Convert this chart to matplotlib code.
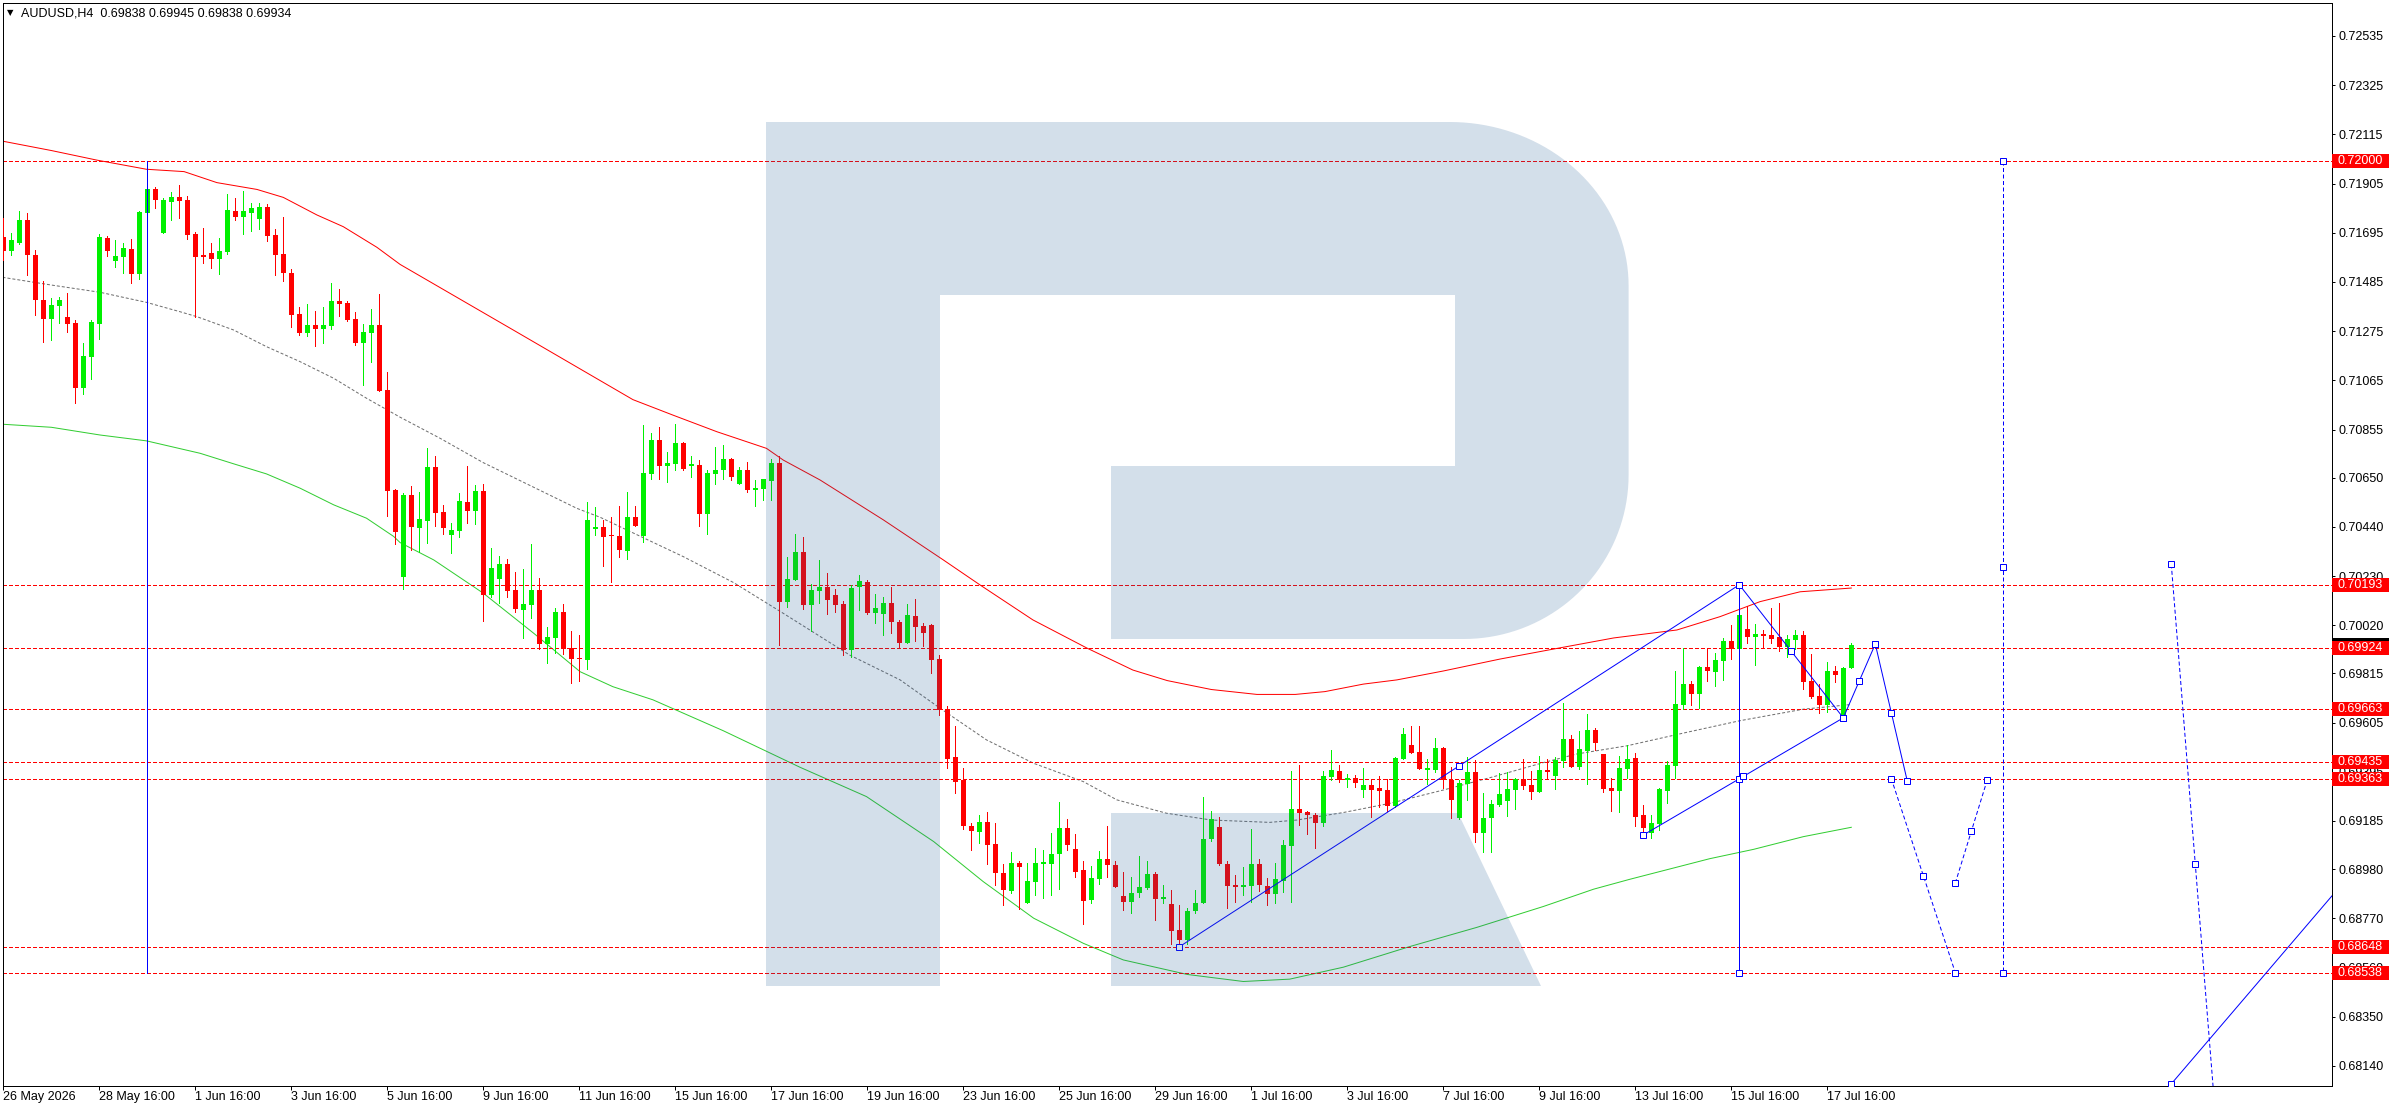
import numpy as np
import matplotlib
matplotlib.use("Agg")
import matplotlib.pyplot as plt
from matplotlib.patches import Polygon, Rectangle

plt.rcParams['font.family'] = ['Liberation Sans', 'DejaVu Sans']
plt.rcParams['font.size'] = 9

# AUDUSD H4 bars
opens = [0.71678, 0.71619, 0.71651, 0.71750, 0.71602, 0.71408, 0.71327, 0.71384, 0.71337, 0.71312,
         0.71033, 0.71165, 0.71307, 0.71673, 0.71576, 0.71592, 0.71626, 0.71519, 0.71781, 0.71880,
         0.71696, 0.71828, 0.71848, 0.71835, 0.71690, 0.71596, 0.71607, 0.71583, 0.71615, 0.71788,
         0.71764, 0.71781, 0.71755, 0.71805, 0.71686, 0.71604, 0.71523, 0.71349, 0.71269, 0.71302,
         0.71286, 0.71299, 0.71404, 0.71395, 0.71327, 0.71226, 0.71269, 0.71303, 0.71024, 0.70598,
         0.70228, 0.70576, 0.70437, 0.70467, 0.70696, 0.70504, 0.70407, 0.70424, 0.70546, 0.70509,
         0.70593, 0.70150, 0.70218, 0.70282, 0.70171, 0.70086, 0.70108, 0.70171, 0.69942, 0.69967,
         0.70078, 0.69922, 0.69878, 0.69874, 0.70432, 0.70440, 0.70403, 0.70401, 0.70339, 0.70482,
         0.70403, 0.70667, 0.70811, 0.70701, 0.70710, 0.70798, 0.70700, 0.70704, 0.70496, 0.70667,
         0.70683, 0.70730, 0.70624, 0.70683, 0.70599, 0.70603, 0.70636, 0.70713, 0.70121, 0.70215,
         0.70333, 0.70108, 0.70168, 0.70182, 0.70149, 0.70112, 0.69916, 0.70182, 0.70203, 0.70074,
         0.70070, 0.70115, 0.70036, 0.69946, 0.70060, 0.70017, 0.70021, 0.69876, 0.69662, 0.69457,
         0.69359, 0.69165, 0.69140, 0.69181, 0.69087, 0.68962, 0.68887, 0.69004, 0.68833, 0.68926,
         0.69003, 0.69003, 0.69042, 0.69155, 0.69066, 0.68976, 0.68848, 0.68939, 0.69023, 0.68998,
         0.68865, 0.68841, 0.68877, 0.68901, 0.68959, 0.68854, 0.68831, 0.68720, 0.68675, 0.68799,
         0.68837, 0.69107, 0.69160, 0.69002, 0.68912, 0.68905, 0.68908, 0.69002, 0.68908, 0.68875,
         0.68930, 0.69080, 0.69236, 0.69225, 0.69211, 0.69178, 0.69373, 0.69398, 0.69361, 0.69368,
         0.69319, 0.69339, 0.69327, 0.69317, 0.69250, 0.69450, 0.69509, 0.69479, 0.69404, 0.69403,
         0.69496, 0.69360, 0.69199, 0.69344, 0.69394, 0.69135, 0.69199, 0.69253, 0.69272, 0.69319,
         0.69364, 0.69339, 0.69310, 0.69400, 0.69378, 0.69442, 0.69535, 0.69417, 0.69485, 0.69573,
         0.69471, 0.69327, 0.69314, 0.69408, 0.69454, 0.69211, 0.69135, 0.69171, 0.69313, 0.69421,
         0.69680, 0.69770, 0.69727, 0.69842, 0.69822, 0.69868, 0.69953, 0.69919, 0.70004, 0.69972,
         0.69983, 0.69979, 0.69970, 0.69929, 0.69957, 0.69979, 0.69782, 0.69718, 0.69682, 0.69825,
         0.69630, 0.69838]
highs = [0.71759, 0.71696, 0.71788, 0.71781, 0.71622, 0.71489, 0.71418, 0.71423, 0.71437, 0.71323,
         0.71226, 0.71323, 0.71690, 0.71681, 0.71664, 0.71650, 0.71668, 0.71788, 0.71880, 0.71892,
         0.71845, 0.71869, 0.71899, 0.71852, 0.71700, 0.71715, 0.71651, 0.71673, 0.71862, 0.71843,
         0.71873, 0.71822, 0.71822, 0.71816, 0.71711, 0.71762, 0.71541, 0.71378, 0.71391, 0.71361,
         0.71380, 0.71481, 0.71455, 0.71404, 0.71357, 0.71306, 0.71370, 0.71434, 0.71101, 0.70603,
         0.70586, 0.70615, 0.70589, 0.70777, 0.70742, 0.70533, 0.70455, 0.70586, 0.70700, 0.70617,
         0.70623, 0.70350, 0.70317, 0.70303, 0.70248, 0.70260, 0.70367, 0.70222, 0.70013, 0.70094,
         0.70111, 0.69996, 0.69979, 0.70546, 0.70525, 0.70469, 0.70484, 0.70529, 0.70589, 0.70529,
         0.70875, 0.70841, 0.70866, 0.70759, 0.70879, 0.70804, 0.70742, 0.70725, 0.70683, 0.70781,
         0.70789, 0.70734, 0.70694, 0.70717, 0.70640, 0.70644, 0.70730, 0.70742, 0.70312, 0.70410,
         0.70397, 0.70196, 0.70300, 0.70242, 0.70174, 0.70124, 0.70191, 0.70235, 0.70213, 0.70154,
         0.70139, 0.70185, 0.70043, 0.70111, 0.70131, 0.70028, 0.70026, 0.69893, 0.69676, 0.69590,
         0.69410, 0.69177, 0.69211, 0.69222, 0.69177, 0.69002, 0.69053, 0.69014, 0.69007, 0.69069,
         0.69061, 0.69133, 0.69266, 0.69194, 0.69130, 0.69014, 0.68993, 0.69056, 0.69164, 0.69014,
         0.68966, 0.68946, 0.69037, 0.69014, 0.68966, 0.68912, 0.68891, 0.68827, 0.68815, 0.68891,
         0.69286, 0.69228, 0.69200, 0.69014, 0.68955, 0.68989, 0.69151, 0.69023, 0.68942, 0.69006,
         0.69104, 0.69398, 0.69424, 0.69228, 0.69219, 0.69398, 0.69488, 0.69424, 0.69386, 0.69381,
         0.69411, 0.69364, 0.69377, 0.69364, 0.69458, 0.69582, 0.69590, 0.69590, 0.69450, 0.69539,
         0.69501, 0.69415, 0.69360, 0.69458, 0.69445, 0.69304, 0.69275, 0.69390, 0.69393, 0.69370,
         0.69450, 0.69398, 0.69462, 0.69450, 0.69458, 0.69688, 0.69552, 0.69569, 0.69641, 0.69582,
         0.69471, 0.69368, 0.69462, 0.69509, 0.69477, 0.69253, 0.69211, 0.69325, 0.69441, 0.69825,
         0.69922, 0.69782, 0.69847, 0.69922, 0.69900, 0.69966, 0.70021, 0.70102, 0.70102, 0.70026,
         0.70000, 0.70092, 0.70115, 0.69979, 0.70001, 0.69996, 0.69898, 0.69768, 0.69862, 0.69845,
         0.69844, 0.69945]
lows = [0.71579, 0.71600, 0.71647, 0.71515, 0.71344, 0.71231, 0.71238, 0.71309, 0.71272, 0.70969,
        0.71007, 0.71071, 0.71242, 0.71596, 0.71549, 0.71522, 0.71482, 0.71498, 0.71778, 0.71802,
        0.71696, 0.71750, 0.71759, 0.71668, 0.71337, 0.71568, 0.71545, 0.71519, 0.71604, 0.71750,
        0.71690, 0.71703, 0.71713, 0.71661, 0.71515, 0.71491, 0.71295, 0.71260, 0.71255, 0.71213,
        0.71226, 0.71285, 0.71341, 0.71320, 0.71218, 0.71046, 0.71144, 0.71019, 0.70488, 0.70365,
        0.70175, 0.70341, 0.70334, 0.70373, 0.70445, 0.70410, 0.70330, 0.70398, 0.70458, 0.70452,
        0.70040, 0.70142, 0.70114, 0.70142, 0.70078, 0.69967, 0.70053, 0.69920, 0.69861, 0.69901,
        0.69899, 0.69775, 0.69784, 0.69835, 0.70405, 0.70275, 0.70204, 0.70313, 0.70305, 0.70445,
        0.70377, 0.70643, 0.70644, 0.70633, 0.70683, 0.70681, 0.70653, 0.70445, 0.70410, 0.70624,
        0.70646, 0.70641, 0.70623, 0.70590, 0.70531, 0.70555, 0.70555, 0.69936, 0.70096, 0.70215,
        0.70091, 0.69997, 0.70117, 0.70067, 0.70075, 0.69893, 0.69883, 0.70085, 0.70067, 0.70028,
        0.69980, 0.69989, 0.69926, 0.69943, 0.69953, 0.69933, 0.69818, 0.69637, 0.69413, 0.69303,
        0.69152, 0.69059, 0.69093, 0.69002, 0.68912, 0.68827, 0.68877, 0.68811, 0.68833, 0.68870,
        0.68858, 0.68868, 0.68896, 0.69059, 0.68948, 0.68744, 0.68835, 0.68915, 0.68948, 0.68902,
        0.68803, 0.68794, 0.68862, 0.68895, 0.68761, 0.68834, 0.68660, 0.68646, 0.68660, 0.68791,
        0.68837, 0.69101, 0.68997, 0.68815, 0.68841, 0.68869, 0.68841, 0.68886, 0.68828, 0.68837,
        0.68884, 0.68841, 0.69169, 0.69130, 0.69071, 0.69165, 0.69361, 0.69353, 0.69331, 0.69331,
        0.69289, 0.69204, 0.69246, 0.69228, 0.69246, 0.69450, 0.69474, 0.69408, 0.69343, 0.69396,
        0.69324, 0.69199, 0.69192, 0.69276, 0.69097, 0.69054, 0.69054, 0.69249, 0.69208, 0.69238,
        0.69323, 0.69280, 0.69309, 0.69364, 0.69323, 0.69417, 0.69417, 0.69408, 0.69344, 0.69488,
        0.69310, 0.69229, 0.69225, 0.69368, 0.69164, 0.69140, 0.69114, 0.69147, 0.69263, 0.69367,
        0.69662, 0.69680, 0.69665, 0.69782, 0.69761, 0.69787, 0.69876, 0.69915, 0.69944, 0.69851,
        0.69926, 0.69943, 0.69912, 0.69885, 0.69920, 0.69748, 0.69708, 0.69647, 0.69652, 0.69780,
        0.69630, 0.69838]
closes = [0.71619, 0.71664, 0.71750, 0.71602, 0.71408, 0.71327, 0.71387, 0.71408, 0.71307, 0.71033,
          0.71169, 0.71314, 0.71677, 0.71619, 0.71596, 0.71630, 0.71519, 0.71785, 0.71880, 0.71836,
          0.71835, 0.71848, 0.71832, 0.71686, 0.71593, 0.71592, 0.71585, 0.71617, 0.71792, 0.71764,
          0.71788, 0.71801, 0.71805, 0.71683, 0.71602, 0.71522, 0.71346, 0.71267, 0.71302, 0.71286,
          0.71302, 0.71404, 0.71391, 0.71324, 0.71226, 0.71272, 0.71303, 0.71020, 0.70593, 0.70416,
          0.70576, 0.70441, 0.70474, 0.70696, 0.70501, 0.70437, 0.70427, 0.70550, 0.70509, 0.70593,
          0.70151, 0.70265, 0.70282, 0.70168, 0.70090, 0.70111, 0.70171, 0.69942, 0.69970, 0.70078,
          0.69920, 0.69875, 0.69875, 0.70469, 0.70440, 0.70398, 0.70400, 0.70343, 0.70482, 0.70445,
          0.70670, 0.70811, 0.70701, 0.70713, 0.70798, 0.70687, 0.70703, 0.70496, 0.70670, 0.70683,
          0.70730, 0.70653, 0.70683, 0.70597, 0.70606, 0.70644, 0.70713, 0.70121, 0.70218, 0.70333,
          0.70108, 0.70171, 0.70182, 0.70129, 0.70108, 0.69916, 0.70179, 0.70209, 0.70074, 0.70092,
          0.70115, 0.70036, 0.69946, 0.70064, 0.70014, 0.69989, 0.69873, 0.69659, 0.69450, 0.69353,
          0.69165, 0.69144, 0.69181, 0.69084, 0.68961, 0.68891, 0.69004, 0.68990, 0.68929, 0.69006,
          0.69006, 0.69043, 0.69155, 0.69084, 0.68968, 0.68845, 0.68941, 0.69023, 0.68995, 0.68905,
          0.68841, 0.68878, 0.68902, 0.68959, 0.68854, 0.68857, 0.68717, 0.68675, 0.68801, 0.68835,
          0.69108, 0.69194, 0.69002, 0.68908, 0.68905, 0.68912, 0.69002, 0.68913, 0.68875, 0.68938,
          0.69083, 0.69236, 0.69221, 0.69212, 0.69178, 0.69377, 0.69403, 0.69361, 0.69368, 0.69349,
          0.69337, 0.69319, 0.69314, 0.69250, 0.69454, 0.69556, 0.69477, 0.69408, 0.69411, 0.69496,
          0.69360, 0.69276, 0.69347, 0.69394, 0.69135, 0.69199, 0.69258, 0.69300, 0.69322, 0.69364,
          0.69336, 0.69310, 0.69403, 0.69396, 0.69445, 0.69535, 0.69417, 0.69492, 0.69573, 0.69516,
          0.69323, 0.69314, 0.69411, 0.69450, 0.69204, 0.69157, 0.69175, 0.69322, 0.69424, 0.69684,
          0.69770, 0.69727, 0.69842, 0.69825, 0.69872, 0.69953, 0.69919, 0.70064, 0.69972, 0.69983,
          0.69976, 0.69961, 0.69929, 0.69961, 0.69979, 0.69780, 0.69716, 0.69682, 0.69825, 0.69809,
          0.69838, 0.69934]

# moving averages sampled along the bars (bar index, price)
ma_red_x = [-0.4, 6, 11.7, 17.9, 22.6, 26.7, 31.7, 35, 39.2, 42.5, 46.7, 49.6, 64, 78.7, 83.7, 89.2,
            95.4, 97.5, 102.1, 110, 117.5, 122.1, 128.7, 135.5, 141.2, 145.5, 151, 156.7, 161.5,
            165.2, 170, 174.2, 180, 187.1, 194, 201.3, 209.2, 214.6, 219.6, 224.6, 231]
ma_red_y = [0.72088, 0.72046, 0.72005, 0.71966, 0.71956, 0.71909, 0.71880, 0.71846, 0.71771, 0.71721,
            0.71633, 0.71560, 0.71275, 0.70983, 0.70917, 0.70846, 0.70775, 0.70725, 0.70640, 0.70470,
            0.70299, 0.70192, 0.70043, 0.69922, 0.69829, 0.69784, 0.69746, 0.69725, 0.69725, 0.69737,
            0.69769, 0.69787, 0.69825, 0.69876, 0.69920, 0.69966, 0.70000, 0.70057, 0.70121, 0.70163,
            0.70179]
ma_gray_x = [-0.1, 6, 12.1, 17.9, 22.1, 24.2, 28.8, 32.9, 37.1, 41.3, 45.4, 49.6, 54.6, 60, 66.3,
             71.7, 74.6, 78.8, 85, 91.3, 97.5, 99.6, 105.8, 112.1, 117.1, 122.9, 128.8, 135, 139.2,
             145.4, 151, 158.3, 161.7, 167.5, 173.3, 180, 186.3, 192.5, 196.7, 203, 210.4, 217.1,
             225, 231]
ma_gray_y = [0.71505, 0.71472, 0.71441, 0.71398, 0.71358, 0.71337, 0.71280, 0.71209, 0.71145, 0.71074,
             0.70989, 0.70908, 0.70818, 0.70714, 0.70609, 0.70519, 0.70481, 0.70413, 0.70313, 0.70202,
             0.70071, 0.70026, 0.69893, 0.69787, 0.69666, 0.69531, 0.69431, 0.69353, 0.69275, 0.69218,
             0.69189, 0.69179, 0.69189, 0.69221, 0.69260, 0.69317, 0.69374, 0.69434, 0.69471, 0.69506,
             0.69563, 0.69613, 0.69662, 0.69682]
ma_green_x = [-0.1, 6, 12.1, 17.9, 24.6, 28.8, 32.9, 37.1, 41.3, 45.4, 48.8, 49.6, 53.8, 60, 66.3,
              72.1, 76.2, 81.2, 90, 99.6, 107.9, 116.3, 122.5, 128.8, 135, 140, 148, 155, 160.8,
              167.5, 175.8, 184.2, 192.5, 198.8, 203.3, 213.3, 218.8, 225, 231]
ma_green_y = [0.70878, 0.70865, 0.70832, 0.70807, 0.70754, 0.70709, 0.70666, 0.70605, 0.70534, 0.70477,
              0.70399, 0.70373, 0.70299, 0.70157, 0.69986, 0.69822, 0.69758, 0.69702, 0.69570, 0.69414,
              0.69289, 0.69097, 0.68926, 0.68770, 0.68663, 0.68592, 0.68530, 0.68500, 0.68510, 0.68561,
              0.68649, 0.68731, 0.68820, 0.68894, 0.68936, 0.69024, 0.69064, 0.69118, 0.69158]

# horizontal levels and axis labels
levels = [0.72000, 0.70193, 0.69924, 0.69663, 0.69435, 0.69363, 0.68648, 0.68538]
price_ticks = [0.72535, 0.72325, 0.72115, 0.71905, 0.71695, 0.71485, 0.71275, 0.71065, 0.70855,
               0.70650, 0.70440, 0.70230, 0.70020, 0.69815, 0.69605, 0.69395, 0.69185, 0.68980,
               0.68770, 0.68560, 0.68350, 0.68140]
date_pos = [0, 12, 24, 36, 48, 60, 72, 84, 96, 108, 120, 132, 144, 156, 168, 180, 192, 204, 216, 228]
date_labels = ["26 May 2026", "28 May 16:00", "1 Jun 16:00", "3 Jun 16:00", "5 Jun 16:00",
               "9 Jun 16:00", "11 Jun 16:00", "15 Jun 16:00", "17 Jun 16:00", "19 Jun 16:00",
               "23 Jun 16:00", "25 Jun 16:00", "29 Jun 16:00", "1 Jul 16:00", "3 Jul 16:00",
               "7 Jul 16:00", "9 Jul 16:00", "13 Jul 16:00", "15 Jul 16:00", "17 Jul 16:00"]

# drawn trend lines (bar index, price) and forecast (dashed)
trend_x = [[18, 18], [147, 217], [217, 217], [205, 230], [217, 230, 234, 238], [271, 291.1]]
trend_y = [[0.72000, 0.68538], [0.68648, 0.70193], [0.70193, 0.68538], [0.69125, 0.69625],
           [0.70193, 0.69625, 0.69940, 0.69355], [0.68063, 0.68866]]
trend_marks = [None, 'all', 'all', 'all', 'all', 'start']
fc_x = [[236, 244], [244, 248], [250, 250], [271, 277]]
fc_y = [[0.69366, 0.68538], [0.68920, 0.69361], [0.72000, 0.68538], [0.70280, 0.67720]]

# ---- layout (pixels of the 2396x1110 picture)
W, H = 2396, 1110
PL, PR, PT, PB = 3, 2332, 3, 1086
BAR_PX = 8.0
X0 = 3.3
PX_PER_UNIT = 23434.0
REF_Y, REF_P = 161.3, 0.72
LW = 0.72   # one pixel


def px_x(x):
    return (np.asarray(x, float) - X0) / BAR_PX


def px_y(y):
    return REF_P - (np.asarray(y, float) - REF_Y) / PX_PER_UNIT


fig = plt.figure(figsize=(W / 100, H / 100), dpi=100, facecolor='white')
ax = fig.add_axes([PL / W, 1 - PB / H, (PR - PL) / W, (PB - PT) / H])
ax.set_xlim(px_x(PL), px_x(PR))
ax.set_ylim(px_y(PB), px_y(PT))

o, h, l, c = map(np.array, (opens, highs, lows, closes))
idx = np.arange(len(o))
cols = np.where(c > o, '#00F000', '#FF0000')

# moving averages
ax.plot(ma_red_x, ma_red_y, color='#FF0000', lw=LW, zorder=2)
ax.plot(ma_green_x, ma_green_y, color='#32CD32', lw=LW, zorder=2)
ax.plot(ma_gray_x, ma_gray_y, color='#6E6E6E', lw=LW, ls=(0, (3, 2)), zorder=2)

# levels
for p in levels:
    ax.axhline(p, color='#FF0000', lw=LW, ls=(0, (4, 2.5)), antialiased=False, zorder=2)

# candles
ax.vlines(idx, l, h, colors=cols, lw=LW, antialiased=False, zorder=3)
min_h = 1.5 / PX_PER_UNIT
ax.bar(idx, np.maximum(np.abs(c - o), min_h), width=0.62, bottom=np.minimum(o, c),
       color=cols, lw=0, antialiased=False, zorder=4)


# blue trend lines with their anchor squares
def anchors(xs, ys, mode):
    pts = []
    for i in range(len(xs) - 1):
        a = (xs[i], ys[i])
        b = (xs[i + 1], ys[i + 1])
        if mode == 'start':
            pts.append(a)
        else:
            pts += [a, ((a[0] + b[0]) / 2, (a[1] + b[1]) / 2), b]
    return pts


marks = []
for xs, ys, m in zip(trend_x, trend_y, trend_marks):
    ax.plot(xs, ys, color='#0000FF', lw=LW, zorder=5)
    if m:
        marks += anchors(xs, ys, m)
for xs, ys in zip(fc_x, fc_y):
    ax.plot(xs, ys, color='#0000FF', lw=LW, ls=(0, (4, 2.5)), zorder=5)
    marks += anchors(xs, ys, 'all')
mx, my = zip(*marks)
ax.plot(mx, my, ls='none', marker='s', ms=3.8, mfc='white', mec='#0000FF', mew=LW, zorder=6)

# watermark logo (pixel geometry), drawn as a translucent overlay
t1 = np.linspace(-np.pi / 2, 0, 40)
t2 = np.linspace(0, np.pi / 2, 40)
arc1 = np.column_stack([1449.7 + 178.9 * np.cos(t1), 285.7 + 163.7 * np.sin(t1)])
arc2 = np.column_stack([1463.6 + 165.0 * np.cos(t2), 475.0 + 164.0 * np.sin(t2)])
bowl = np.vstack([[[766, 122]], arc1, arc2,
                  [[1111, 639], [1111, 466], [1455, 466], [1455, 295], [940, 295], [940, 986], [766, 986]]])
leg = np.array([[1111, 813], [1458, 813], [1541, 986], [1111, 986]])
for shape in (bowl, leg):
    pts = np.column_stack([px_x(shape[:, 0]), px_y(shape[:, 1])])
    ax.add_patch(Polygon(pts, closed=True, facecolor='#265F96', alpha=0.2, edgecolor='none',
                         antialiased=True, zorder=7))

# axes look
for s in ax.spines.values():
    s.set_color('black')
    s.set_linewidth(LW)
ax.yaxis.tick_right()
ax.set_yticks(price_ticks)
ax.set_yticklabels([f"{p:.5f}" for p in price_ticks])
ax.set_xticks(date_pos)
ax.set_xticklabels(date_labels, ha='left')
ax.tick_params(axis='y', direction='out', length=2.2, width=LW, pad=2.2, labelsize=9)
ax.tick_params(axis='x', direction='out', length=2.9, width=LW, pad=0.8, labelsize=9)

# price tags on the right
ytr = ax.get_yaxis_transform()
tag_w = 57 / (PR - PL)
tag_h = 14 / PX_PER_UNIT
ax.add_patch(Rectangle((1.0, closes[-1] - tag_h / 2), tag_w, tag_h, transform=ytr,
                       facecolor='black', edgecolor='none', clip_on=False, zorder=9))
for p in levels:
    ax.add_patch(Rectangle((1.0, p - tag_h / 2), tag_w, tag_h, transform=ytr,
                           facecolor='#FF0000', edgecolor='none', clip_on=False, zorder=10))
    ax.text(1.0 + 5 / (PR - PL), p, f"{p:.5f}", transform=ytr, color='white', fontsize=9,
            va='center', ha='left', clip_on=False, zorder=11)

# header
title = f"AUDUSD,H4  {opens[-1]:.5f} {highs[-1]:.5f} {lows[-1]:.5f} {closes[-1]:.5f}"
fig.text(21 / W, 1 - 13 / H, title, va='center', ha='left', fontsize=9)
fig.text(10 / W, 1 - 12.5 / H, '\u25bc', va='center', ha='center', fontsize=6, family='DejaVu Sans')

fig.savefig('out.png', dpi=100, facecolor='white')
